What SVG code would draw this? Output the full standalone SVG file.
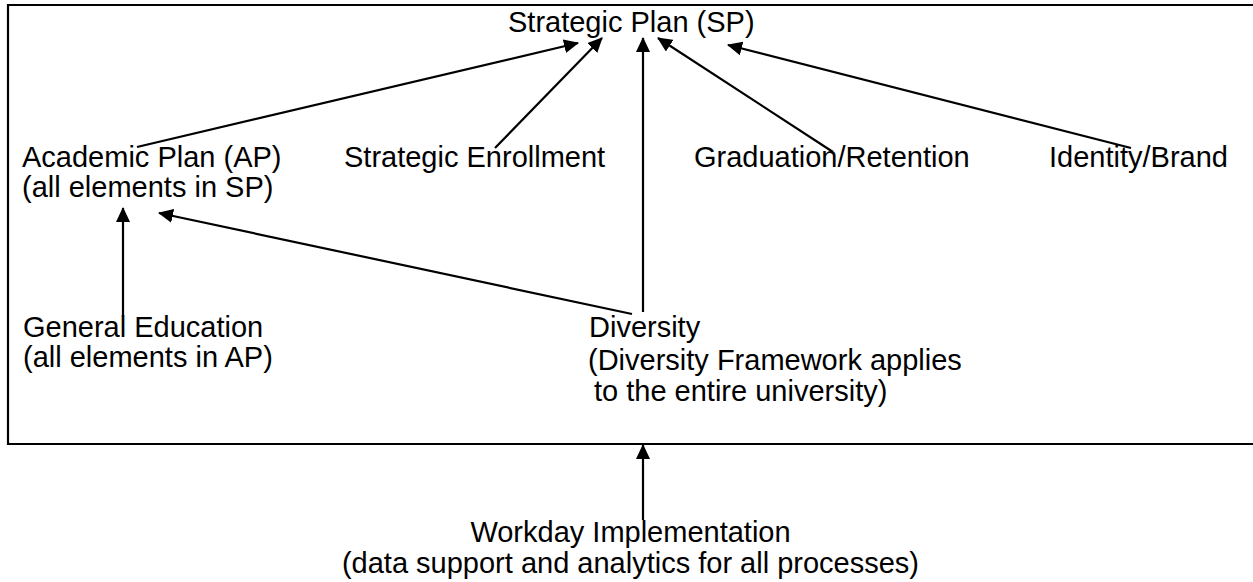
<svg xmlns="http://www.w3.org/2000/svg" width="1253" height="582" viewBox="0 0 1253 582">
  <style>
    text { font-family: "Liberation Sans", Arial, sans-serif; font-size: 29px; fill: #000; }
    .mid { text-anchor: middle; }
    .frame { fill: none; stroke: #000; stroke-width: 2.2; }
    .conn line { stroke: #000; stroke-width: 2.2; marker-end: url(#head); }
  </style>
  <defs>
    <marker id="head" markerUnits="userSpaceOnUse" markerWidth="15" markerHeight="14" refX="14" refY="7" orient="auto">
      <path d="M0,0 L15,7 L0,14 Z" fill="#000"/>
    </marker>
  </defs>
  <rect width="1253" height="582" fill="#fff"/>

  <!-- enclosing frame (runs off the right edge) -->
  <path class="frame" d="M1260,5 H8 V444 H1260"/>

  <g id="sp"><text x="508" y="32">Strategic Plan (SP)</text></g>
  <g id="ap">
    <text x="22" y="167">Academic Plan (AP)</text>
    <text x="22" y="197">(all elements in SP)</text>
  </g>
  <g id="enrollment"><text x="344" y="167">Strategic Enrollment</text></g>
  <g id="graduation"><text x="694" y="167">Graduation/Retention</text></g>
  <g id="identity"><text x="1049" y="167">Identity/Brand</text></g>
  <g id="gened">
    <text x="23" y="337">General Education</text>
    <text x="23" y="367">(all elements in AP)</text>
  </g>
  <g id="diversity">
    <text x="589" y="337">Diversity</text>
    <text x="588" y="370">(Diversity Framework applies</text>
    <text x="594" y="401">to the entire university)</text>
  </g>
  <g id="workday">
    <text class="mid" x="630.5" y="542">Workday Implementation</text>
    <text class="mid" x="630.5" y="573">(data support and analytics for all processes)</text>
  </g>

  <g id="connectors" class="conn">
    <line x1="137" y1="147" x2="578" y2="43"/>
    <line x1="495" y1="148" x2="602" y2="38"/>
    <line x1="643" y1="312" x2="643" y2="38"/>
    <line x1="833" y1="152" x2="658" y2="38"/>
    <line x1="1131" y1="148" x2="728" y2="45"/>
    <line x1="123" y1="317" x2="123" y2="208"/>
    <line x1="632" y1="314" x2="159" y2="213"/>
    <line x1="643" y1="520" x2="643" y2="445"/>
  </g>
</svg>
